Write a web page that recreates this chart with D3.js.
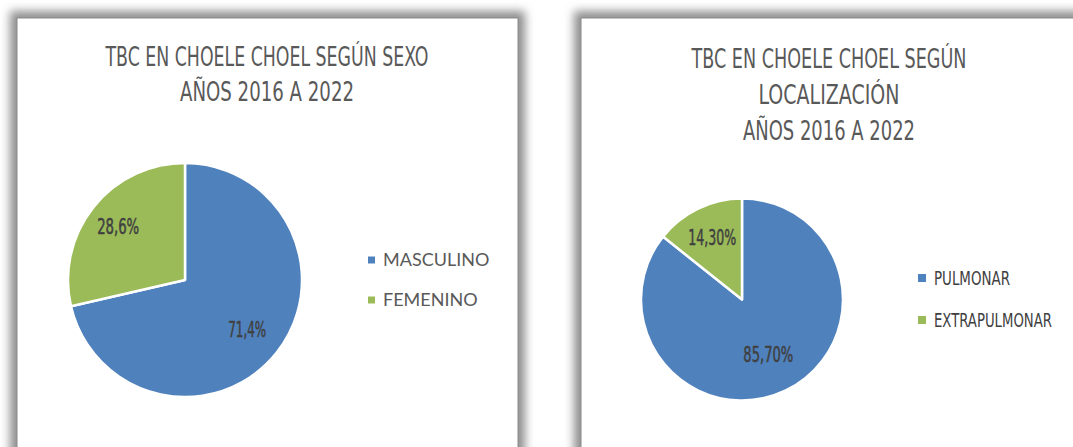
<!DOCTYPE html>
<html>
<head>
<meta charset="utf-8">
<script src="https://cdn.jsdelivr.net/npm/d3@7"></script>
<style>
  body { margin: 0; background: #fff; }
  svg { display: block; }
</style>
</head>
<body>
<svg id="chart" width="1073" height="447"></svg>
<script>
var SEX_TITLE = ['TBC EN CHOELE CHOEL SEGÚN SEXO', 'AÑOS 2016 A 2022'];
var SEX_CATEGORIES = ['MASCULINO', 'FEMENINO'];
var SEX_VALUES = [71.4, 28.6];
var SEX_LABELS = ['71,4%', '28,6%'];

var LOC_TITLE = ['TBC EN CHOELE CHOEL SEGÚN', 'LOCALIZACIÓN', 'AÑOS 2016 A 2022'];
var LOC_CATEGORIES = ['PULMONAR', 'EXTRAPULMONAR'];
var LOC_VALUES = [85.7, 14.3];
var LOC_LABELS = ['85,70%', '14,30%'];

var COLORS = ['#4f81bd', '#9bbb59'];
var NARROW = '"Liberation Sans Narrow", "DejaVu Sans Condensed", sans-serif';

var svg = d3.select('#chart');

// soft grey shadow round each panel
var defs = svg.append('defs');
defs.append('filter')
    .attr('id', 'shadow')
    .attr('x', '-10%').attr('y', '-10%')
    .attr('width', '120%').attr('height', '120%')
  .append('feGaussianBlur')
    .attr('stdDeviation', 5);

// the original font is very narrow: squeeze each text to its measured width
function fitWidth(sel, widths) {
  sel.attr('textLength', (d, i) => widths[i])
     .attr('lengthAdjust', 'spacingAndGlyphs');
}

function pieChart(opts) {
  var g = svg.append('g');

  g.append('rect')
      .attr('x', opts.x - 7).attr('y', opts.y - 7)
      .attr('width', opts.w + 14).attr('height', opts.h + 14)
      .attr('fill', '#8f8f8f')
      .attr('filter', 'url(#shadow)');

  g.append('rect')
      .attr('x', opts.x).attr('y', opts.y)
      .attr('width', opts.w).attr('height', opts.h)
      .attr('fill', '#fff')
      .attr('stroke', '#8a8a8a')
      .attr('stroke-width', 1);

  // ----- title ----------------------------------------------------------
  g.append('g').selectAll('text')
      .data(opts.title)
    .enter().append('text')
      .attr('x', opts.titleX)
      .attr('y', (d, i) => opts.titleY + i * opts.lineHeight)
      .attr('text-anchor', 'middle')
      .attr('font-family', NARROW)
      .attr('font-size', 26)
      .attr('fill', '#595959')
      .text((d) => d)
      .call(fitWidth, opts.titleWidths);

  // ----- pie ------------------------------------------------------------
  var pie = d3.pie().sort(null).value((d) => d);
  var arcs = pie(opts.values);
  var arc = d3.arc().innerRadius(0).outerRadius(opts.r);

  var pg = g.append('g')
      .attr('transform', 'translate(' + opts.cx + ',' + opts.cy + ')');

  pg.selectAll('path')
      .data(arcs)
    .enter().append('path')
      .attr('d', arc)
      .attr('fill', (d, i) => COLORS[i])
      .attr('stroke', '#fff')
      .attr('stroke-width', 2.5)
      .attr('stroke-linejoin', 'round');

  pg.selectAll('.label')
      .data(arcs)
    .enter().append('text')
      .attr('class', 'label')
      .attr('transform', function(d, i) {
        var lr = opts.r * opts.labelPos[i];
        var c = d3.arc().innerRadius(lr).outerRadius(lr).centroid(d);
        return 'translate(' + c + ')';
      })
      .attr('dy', '0.36em')
      .attr('text-anchor', 'middle')
      .attr('font-family', NARROW)
      .attr('font-size', 21)
      .attr('fill', '#404040')
      .attr('stroke', '#404040')
      .attr('stroke-width', 0.5)
      .text((d, i) => opts.labels[i])
      .call(fitWidth, opts.labelWidths);

  // ----- legend ---------------------------------------------------------
  var lg = g.append('g').selectAll('g')
      .data(opts.categories)
    .enter().append('g')
      .attr('transform', (d, i) =>
        'translate(' + opts.legendX + ',' + (opts.legendY + i * opts.legendGap) + ')');

  lg.append('rect')
      .attr('x', 0)
      .attr('y', -opts.box / 2)
      .attr('width', opts.box)
      .attr('height', opts.box)
      .attr('fill', (d, i) => COLORS[i]);

  var lt = lg.append('text')
      .attr('x', opts.box + 8)
      .attr('dy', '0.35em')
      .attr('font-family', opts.legendFont)
      .attr('font-size', opts.legendSize)
      .attr('fill', opts.legendColor)
      .text((d) => d);
  if (opts.legendWidths) lt.call(fitWidth, opts.legendWidths);
}

pieChart({
  x: 17, y: 18, w: 501, h: 520,
  title: SEX_TITLE, titleX: 267, titleY: 66, lineHeight: 35,
  titleWidths: [323, 174],
  values: SEX_VALUES, labels: SEX_LABELS, categories: SEX_CATEGORIES,
  cx: 185, cy: 280, r: 117, labelPos: [0.68, 0.73], labelWidths: [38, 42],
  legendX: 368, legendY: 260, legendGap: 40, box: 7,
  legendFont: 'Lato, "Open Sans", sans-serif', legendSize: 18, legendColor: '#595959'
});

pieChart({
  x: 581, y: 18, w: 620, h: 520,
  title: LOC_TITLE, titleX: 829, titleY: 68, lineHeight: 36,
  titleWidths: [275, 141, 172],
  values: LOC_VALUES, labels: LOC_LABELS, categories: LOC_CATEGORIES,
  cx: 742, cy: 299.5, r: 101, labelPos: [0.6, 0.68], labelWidths: [50, 48],
  legendX: 918, legendY: 278, legendGap: 42, box: 8,
  legendFont: NARROW, legendSize: 19, legendColor: '#404040', legendWidths: [76, 118]
});
</script>
</body>
</html>
